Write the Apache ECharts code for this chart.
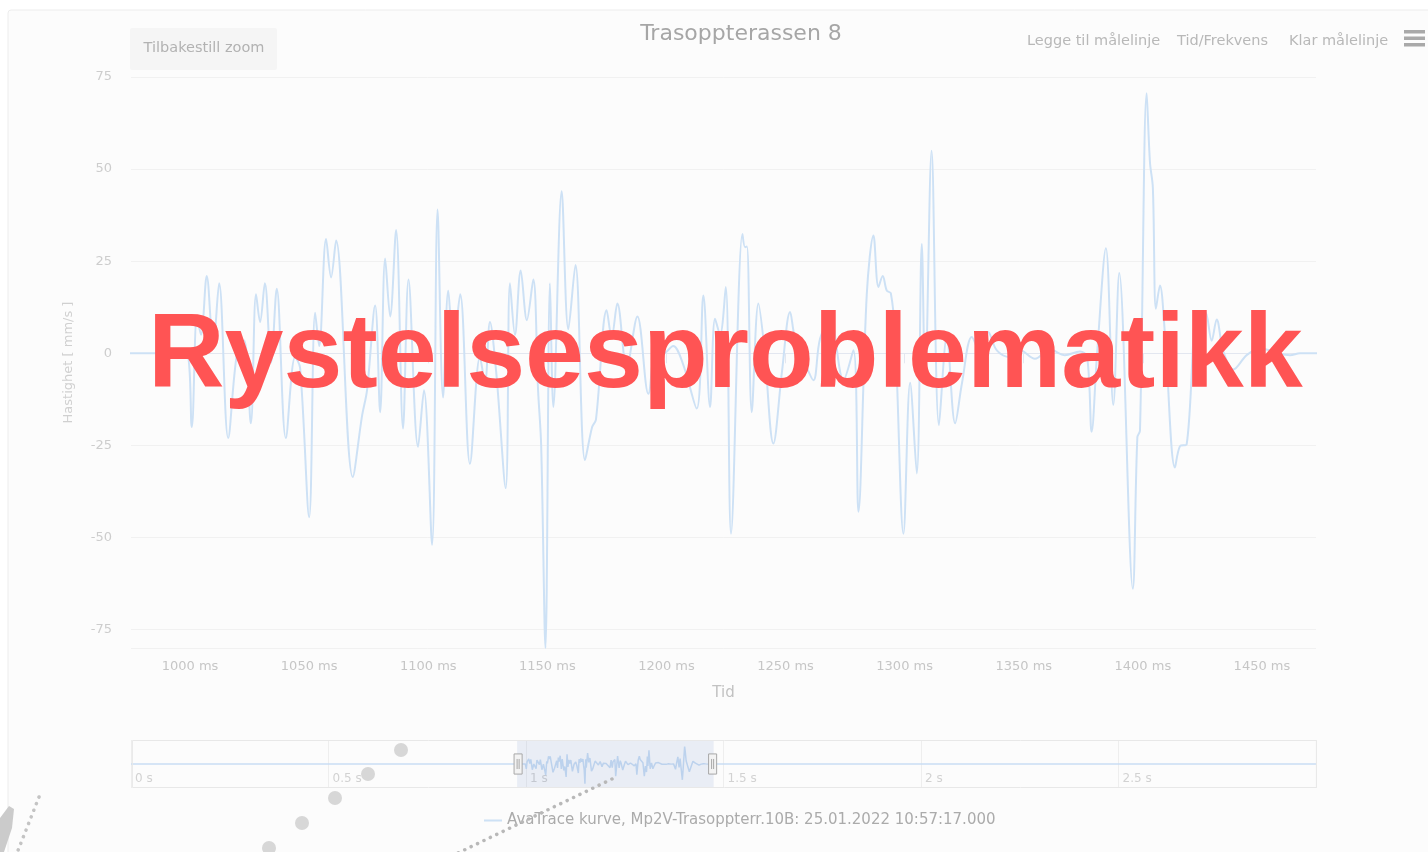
<!DOCTYPE html>
<html>
<head>
<meta charset="utf-8">
<title>Trasoppterassen 8</title>
<script src="https://cdn.jsdelivr.net/npm/echarts@6/dist/echarts.min.js"></script>
<style>
html,
body {
  margin: 0;
  padding: 0;
  background: #ffffff;
}
#main {
  width: 1428px;
  height: 852px;
}
</style>
</head>
<body>
<div id="main"></div>
<script>
// tid i ms (topp- og bunnpunkter)
const tid = [
  0, 975.2, 998.3, 1000.7, 1002.9, 1004.6, 1007.0, 1009.7, 1012.2, 1016.0,
  1019.7, 1022.7, 1025.5, 1027.7, 1029.4, 1031.4, 1034.0, 1036.4, 1040.2, 1044.1,
  1046.2, 1050.0, 1052.5, 1054.2, 1057.1, 1059.2, 1061.3, 1068.3, 1072.2, 1074.3,
  1077.7, 1079.8, 1081.9, 1084.0, 1086.5, 1089.4, 1091.7, 1095.7, 1098.2, 1101.6,
  1103.9, 1106.2, 1108.4, 1110.5, 1113.4, 1117.5, 1121.7, 1123.8, 1125.9, 1128.5,
  1132.5, 1134.3, 1136.4, 1138.8, 1141.4, 1144.1, 1146.1, 1147.4, 1149.2, 1151.1,
  1152.5, 1156.0, 1158.8, 1161.8, 1165.8, 1168.8, 1170.4, 1174.9, 1177.0, 1179.4,
  1183.3, 1187.8, 1192.4, 1195.9, 1199.0, 1202.8, 1207.0, 1212.7, 1215.5, 1218.3,
  1220.4, 1222.5, 1224.9, 1227.1, 1231.9, 1233.0, 1233.8, 1235.8, 1238.6, 1241.0,
  1244.9, 1248.5, 1251.9, 1254.0, 1258.2, 1261.7, 1264.5, 1268.7, 1274.3, 1278.5,
  1280.6, 1284.1, 1286.9, 1289.0, 1290.8, 1292.5, 1294.2, 1296.0, 1299.5, 1302.3,
  1305.1, 1307.2, 1308.6, 1311.3, 1314.4, 1317.7, 1321.2, 1324.1, 1328.2, 1332.4,
  1335.1, 1338.7, 1344.2, 1348.4, 1354.7, 1361.0, 1367.3, 1373.6, 1376.6, 1378.5,
  1380.8, 1384.5, 1387.6, 1390.1, 1395.8, 1397.7, 1398.8, 1401.6, 1403.0, 1404.2,
  1405.5, 1407.2, 1409.3, 1413.5, 1415.6, 1418.4, 1422.6, 1424.7, 1426.5, 1428.9,
  1431.0, 1433.8, 1438.0, 1443.6, 1449.2, 1454.7, 1461.8, 1466.0, 3000
];
// hastighet i mm/s
const hastighet = [
  0, 0, 0, -20, 10, 5, 21, 2, 19, -23,
  0, 3.5, -19, 16, 8.5, 19, -2.5, 17.5, -23, -1,
  -4, -44.5, 11, 2, 31, 20.6, 30.6, -33.6, -17, -10,
  13, -16, 25.7, 10, 33.5, -20.4, 20, -25.4, -10, -52,
  39, -12, 17, 1.7, 16, -30, -1, -8, 8.5, -5,
  -36.6, 19, 5, 22.5, 9, 20, -10, -25, -80, 19,
  -14.6, 44, 6.5, 24, -29, -20, -18, 11.7, 4.4, 13.5,
  -3.7, 10, -11, 3.5, 0, 2, -3, -15, 15.7, -14.6,
  9.4, 5, 18, -49, 32.4, 28.8, 29, -16, 13.5, 2,
  -24.5, -5, 11.2, 4, -2.7, -7.3, 4, 9, -7.3, 0.8,
  -43, 16, 32, 18, 21, 17, 16.3, 5, -49, -8,
  -32.6, 29.7, -8, 55, -19.5, 4.4, -19, -8, 4.4, -1,
  5.8, 0.8, -1, 0.8, -1.5, 1, -0.5, 0.5, -1, -21.3,
  0, 28.5, -14, 21.8, -63.9, -22.8, -21, 70.6, 51.8, 45,
  12.1, 18.4, 5, -31, -25.2, -24.7, 11, 5.3, 11, 3.4,
  9.2, 0.5, -4.4, -0.5, 1.4, 0.5, -0.5, 0, 0
];
const serieNavn = "AvaTrace kurve, Mp2V-Trasoppterr.10B: 25.01.2022 10:57:17.000";
const vindu = [975.2, 1472.7]; // synlig utsnitt i ms
const verktoy = ["Legge til målelinje", "Tid/Frekvens", "Klar målelinje"];

const punkter = tid.map((t, i) => [t, hastighet[i]]);

const font = "'DejaVu Sans', sans-serif";
const myChart = echarts.init(document.getElementById("main"));

let option = {
  animation: false,
  textStyle: { fontFamily: font },
  legend: {
    data: [serieNavn],
    left: 479,
    top: 808,
    icon: "rect",
    itemWidth: 18,
    itemHeight: 2,
    selectedMode: false,
    textStyle: { color: "#ababab", fontSize: 15, fontFamily: font },
  },
  grid: [
    { left: 131, right: 112, top: 77, height: 571 }, // hovedplott
    { left: 131, right: 112, top: 740, height: 48 }, // navigator
  ],
  xAxis: [
    {
      type: "value",
      gridIndex: 0,
      min: 0,
      max: 3000,
      minInterval: 50,
      maxInterval: 50,
      axisLine: { lineStyle: { color: "#e3e7f0" } },
      axisTick: { length: 10, lineStyle: { color: "#e3e7f0" } },
      axisLabel: {
        color: "#c6c6c6",
        fontSize: 13,
        margin: 12,
        showMinLabel: false,
        showMaxLabel: false,
        formatter: (v) => v + " ms",
      },
      splitLine: { show: false },
      name: "Tid",
      nameLocation: "middle",
      nameGap: 38,
      nameTextStyle: { color: "#c2c2c2", fontSize: 15 },
    },
    {
      type: "value",
      gridIndex: 1,
      min: 0,
      max: 3000,
      interval: 500,
      axisLine: { show: false },
      axisTick: { show: false },
      axisLabel: {
        inside: true,
        align: "left",
        margin: 3,
        padding: [0, 0, 0, 4],
        color: "#d2d2d2",
        fontSize: 12,
        showMaxLabel: false,
        formatter: (v) => v / 1000 + " s",
      },
      splitLine: { show: true, lineStyle: { color: "#eeeeee" } },
    },
  ],
  yAxis: [
    {
      type: "value",
      gridIndex: 0,
      min: -80,
      max: 75,
      minInterval: 25,
      maxInterval: 25,
      axisLine: { show: false },
      axisTick: { show: false },
      axisLabel: {
        color: "#cdcdcd",
        fontSize: 13,
        margin: 19,
        showMinLabel: false,
      },
      splitLine: { lineStyle: { color: "#f1f1f1" } },
      name: "Hastighet [ mm/s ]",
      nameLocation: "middle",
      nameRotate: 90,
      nameGap: 56,
      nameTextStyle: { color: "#d0d0d0", fontSize: 13 },
    },
    { type: "value", gridIndex: 1, min: -97, max: 97, show: false },
  ],
  dataZoom: [
    {
      type: "slider",
      xAxisIndex: 0,
      filterMode: "none",
      startValue: vindu[0],
      endValue: vindu[1],
      left: 131,
      right: 112,
      top: 740,
      height: 48,
      showDetail: false,
      showDataShadow: false,
      brushSelect: false,
      moveHandleSize: 0,
      backgroundColor: "rgba(0,0,0,0)",
      borderColor: "#e8e8e8",
      fillerColor: "rgba(102,133,194,0.12)",
      handleIcon: "path://M0,0 L8,0 L8,20 L0,20 Z M3,5 L3,15 M5,5 L5,15",
      handleSize: "42%",
      handleStyle: { color: "#f3f3f3", borderColor: "#a8a8a8", borderWidth: 1 },
    },
  ],
  series: [
    {
      name: serieNavn,
      type: "line",
      xAxisIndex: 0,
      yAxisIndex: 0,
      symbol: "none", // ingen punkter
      smooth: 0.35,
      lineStyle: { color: "#cde1f5", width: 2 },
      itemStyle: { color: "#cde1f5" },
      data: punkter,
    },
    {
      // samme kurve i navigatoren
      name: "navigator",
      type: "line",
      xAxisIndex: 1,
      yAxisIndex: 1,
      symbol: "none",
      silent: true,
      lineStyle: { color: "#c9ddf3", width: 1.5 },
      data: punkter,
    },
  ],
  graphic: [
    // kortet bak diagrammet
    {
      type: "rect",
      z: -10,
      silent: true,
      shape: { x: 8, y: 10, width: 1440, height: 900, r: 3 },
      style: { fill: "#fcfcfc", stroke: "#ececec", lineWidth: 1 },
    },
    {
      type: "text",
      x: 741,
      y: 34,
      style: {
        text: "Trasoppterassen 8",
        fill: "#a6a6a6",
        font: "22px " + font,
        align: "center",
        verticalAlign: "middle",
      },
    },
    // Tilbakestill zoom-knapp
    {
      type: "rect",
      shape: { x: 130, y: 28, width: 147, height: 42, r: 2 },
      style: { fill: "#f5f5f5" },
    },
    {
      type: "text",
      x: 204,
      y: 48,
      style: {
        text: "Tilbakestill zoom",
        fill: "#b2b2b2",
        font: "14.5px " + font,
        align: "center",
        verticalAlign: "middle",
      },
    },
    {
      type: "text",
      x: 1027,
      y: 41,
      style: { text: verktoy[0], fill: "#b8b8b8", font: "14.5px " + font, verticalAlign: "middle" },
    },
    {
      type: "text",
      x: 1177,
      y: 41,
      style: { text: verktoy[1], fill: "#b8b8b8", font: "14.5px " + font, verticalAlign: "middle" },
    },
    {
      type: "text",
      x: 1289,
      y: 41,
      style: { text: verktoy[2], fill: "#b8b8b8", font: "14.5px " + font, verticalAlign: "middle" },
    },
    // meny-ikon
    { type: "rect", shape: { x: 1404, y: 30, width: 21, height: 3.5 }, style: { fill: "#a9a9a9" } },
    { type: "rect", shape: { x: 1404, y: 36.5, width: 21, height: 3.5 }, style: { fill: "#a9a9a9" } },
    { type: "rect", shape: { x: 1404, y: 43, width: 21, height: 3.5 }, style: { fill: "#a9a9a9" } },
    // dekor nede til venstre
    { type: "circle", z: 50, shape: { cx: 401, cy: 750, r: 7 }, style: { fill: "#d7d7d7" } },
    { type: "circle", z: 50, shape: { cx: 368, cy: 774, r: 7 }, style: { fill: "#d7d7d7" } },
    { type: "circle", z: 50, shape: { cx: 335, cy: 798, r: 7 }, style: { fill: "#d7d7d7" } },
    { type: "circle", z: 50, shape: { cx: 302, cy: 823, r: 7 }, style: { fill: "#d7d7d7" } },
    { type: "circle", z: 50, shape: { cx: 269, cy: 848, r: 7 }, style: { fill: "#d7d7d7" } },
    {
      type: "polyline",
      z: 50,
      shape: { points: [[612, 779], [458, 853]] },
      style: { stroke: "#b8b8b8", lineWidth: 3.5, lineCap: "round", lineDash: [0.1, 7] },
    },
    {
      type: "polyline",
      z: 50,
      shape: { points: [[39, 797], [17, 853]] },
      style: { stroke: "#c4c4c4", lineWidth: 3.5, lineCap: "round", lineDash: [0.1, 7] },
    },
    {
      type: "polygon",
      z: 50,
      shape: { points: [[0, 818], [9, 806], [14, 809], [12, 828], [4, 852], [0, 852]] },
      style: { fill: "#cbcbcb" },
    },
    // overskrift over diagrammet
    {
      type: "text",
      z: 100,
      x: 148,
      y: 358,
      style: {
        text: "Rystelsesproblematikk",
        fill: "#ff5454",
        font: "bold 106px 'Liberation Sans', Arial, sans-serif",
        verticalAlign: "middle",
        blend: "multiply",
      },
    },
  ],
};

myChart.setOption(option);
window.onresize = myChart.resize;
</script>
</body>
</html>
